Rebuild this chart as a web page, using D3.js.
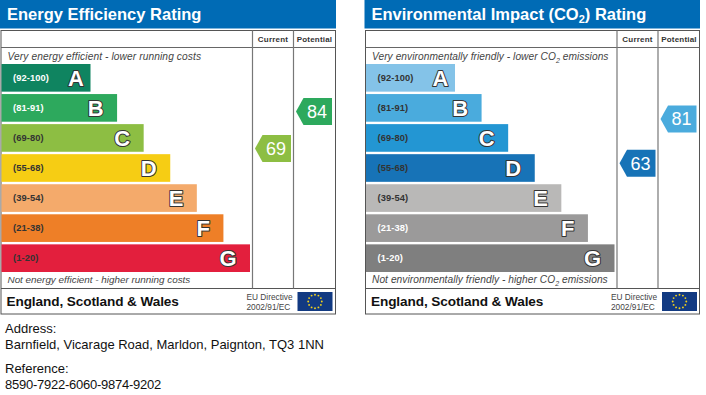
<!DOCTYPE html>
<html>
<head>
<meta charset="utf-8">
<script src="https://cdnjs.cloudflare.com/ajax/libs/d3/7.8.5/d3.min.js"></script>
<style>
  html, body { margin: 0; padding: 0; background: #fff; }
  svg { display: block; font-family: "Liberation Sans", Arial, sans-serif; }
</style>
</head>
<body>
<svg id="chart" width="706" height="395"></svg>
<script>
"use strict"

// bands, best to worst
let bandLetters = ["A", "B", "C", "D", "E", "F", "G"];
let bandRanges = ["(92-100)", "(81-91)", "(69-80)", "(55-68)", "(39-54)", "(21-38)", "(1-20)"];
let bandFloors = [92, 81, 69, 55, 39, 21, 1];
let bandRanks = [1, 2, 3, 4, 5, 6, 7];

let energyColors = ["#0f8460", "#2da95d", "#8dbe43", "#f6cd14", "#f4aa6b", "#ee7f27", "#e31f3d"];
let energyLabelColors = ["#fff", "#fff", "#333", "#333", "#333", "#333", "#333"];
let energyScores = [69, 84];

let envColors = ["#84c3e8", "#4aabdd", "#2396d3", "#1773b7", "#b9b8b7", "#9b9a9a", "#7f7f7f"];
let envLabelColors = ["#333", "#333", "#333", "#333", "#333", "#fff", "#fff"];
let envScores = [63, 81];

let columnNames = ["Current", "Potential"];

let svg = d3.select("#chart");

let yBand = d3.scaleBand().domain(bandLetters).range([64, 272]).paddingInner(0.08).paddingOuter(0);
let xRank = d3.scaleLinear().domain([1, 7]).range([90.5, 250]);
let yScore = d3.scaleLinear().domain([84, 69]).range([111.5, 148.5]);

function subscriptText(sel, parts, size) {
  // parts: [text, isSub, comesAfterSub]
  parts.forEach(function(p) {
    let span = sel.append("tspan").text(p[0]);
    if (p[1]) span.attr("font-size", size).attr("dy", 3);
    else if (p[2]) span.attr("dy", -3);
  });
}

function drawFlag(g, x, y) {
  g.append("rect").attr("x", x).attr("y", y).attr("width", 35).attr("height", 19).attr("fill", "#123a82");
  d3.range(12).forEach(function(i) {
    let a = i / 12 * 2 * Math.PI;
    g.append("circle")
      .attr("cx", x + 17.5 + 6.8 * Math.sin(a))
      .attr("cy", y + 9.5 - 6.8 * Math.cos(a))
      .attr("r", 0.95)
      .attr("fill", "#f2d21c");
  });
}

function drawPanel(dx, width, titleParts, topParts, bottomParts, colors, labelColors, scores, topStyle, bottomStyle) {
  let g = svg.append("g").attr("transform", "translate(" + dx + ",0)");
  let colA = 252.5, colB = 293.5, right = width;

  g.append("rect").attr("x", 0).attr("y", 0).attr("width", right + 0.5).attr("height", 28.5).attr("fill", "#006bb5");
  let title = g.append("text").attr("x", 7).attr("y", 20)
    .attr("font-size", 16.5).attr("font-weight", "bold").attr("fill", "#fff");
  subscriptText(title, titleParts, 11);

  // frame
  g.append("rect").attr("x", 1).attr("y", 30.5).attr("width", right - 1).attr("height", 283.5)
    .attr("fill", "#fff").attr("stroke", "#555").attr("stroke-width", 1);
  g.append("line").attr("x1", 1).attr("x2", right).attr("y1", 47.5).attr("y2", 47.5).attr("stroke", "#666");
  g.append("line").attr("x1", 1).attr("x2", right).attr("y1", 288.5).attr("y2", 288.5).attr("stroke", "#555");
  [colA, colB].forEach(function(x) {
    g.append("line").attr("x1", x).attr("x2", x).attr("y1", 30.5).attr("y2", 288.5)
      .attr("stroke", "#777").attr("stroke-width", 1.2);
  });

  columnNames.forEach(function(name, i) {
    g.append("text").attr("x", i == 0 ? 273 : 314.5).attr("y", 42).attr("text-anchor", "middle")
      .attr("font-size", 8).attr("font-weight", "bold").attr("fill", "#333").attr("letter-spacing", 0.2).text(name);
  });

  let top = g.append("text").attr("x", 7.5).attr("y", 60).attr("font-size", topStyle[0])
    .attr("font-style", "italic").attr("fill", "#444").attr("letter-spacing", topStyle[1]);
  subscriptText(top, topParts, 7);

  let bottom = g.append("text").attr("x", 7.5).attr("y", 283).attr("font-size", bottomStyle[0])
    .attr("font-style", "italic").attr("fill", "#444").attr("letter-spacing", bottomStyle[1]);
  subscriptText(bottom, bottomParts, 7);

  // bars
  let rows = g.selectAll(".band").data(bandLetters).enter().append("g").attr("class", "band");
  rows.append("rect")
    .attr("x", 1.5)
    .attr("y", d => yBand(d))
    .attr("width", (d, i) => xRank(bandRanks[i]) - 1.5)
    .attr("height", yBand.bandwidth())
    .attr("fill", (d, i) => colors[i]);
  rows.append("text")
    .attr("x", 13)
    .attr("y", d => yBand(d) + yBand.bandwidth() / 2 + 2.7)
    .attr("font-size", 9.3).attr("font-weight", "bold").attr("letter-spacing", 0.1)
    .attr("fill", (d, i) => labelColors[i])
    .text((d, i) => bandRanges[i]);
  rows.append("text")
    .attr("x", (d, i) => xRank(bandRanks[i]) - (d == "A" ? 6.5 : 13.5))
    .attr("y", d => yBand(d) + yBand.bandwidth() / 2 + 8)
    .attr("text-anchor", "end")
    .attr("font-size", 22).attr("font-weight", "bold")
    .attr("fill", "#fff").attr("stroke", "#333").attr("stroke-width", 2)
    .attr("stroke-linejoin", "round")
    .attr("paint-order", "stroke")
    .text(d => d);

  // score arrows
  scores.forEach(function(score, i) {
    let rightX = i == 0 ? 291 : 332;
    let fill = colors[bandFloors.findIndex(f => score >= f)];
    let cy = yScore(score);
    let path = d3.path();
    path.moveTo(rightX - 36, cy);
    path.lineTo(rightX - 28.5, cy - 13.5);
    path.lineTo(rightX, cy - 13.5);
    path.lineTo(rightX, cy + 13.5);
    path.lineTo(rightX - 28.5, cy + 13.5);
    path.closePath();
    g.append("path").attr("d", path.toString()).attr("fill", fill);
    g.append("text").attr("x", rightX - 15).attr("y", cy + 6.5).attr("text-anchor", "middle")
      .attr("font-size", 18).attr("fill", "#fff").text(score);
  });

  // footer
  g.append("text").attr("x", 6.5).attr("y", 306).attr("font-size", 13.6).attr("font-weight", "bold")
    .attr("fill", "#111").attr("letter-spacing", -0.1).text("England, Scotland & Wales");
  g.append("text").attr("x", 246.5).attr("y", 300).attr("font-size", 8.3).attr("fill", "#444").text("EU Directive");
  g.append("text").attr("x", 246.5).attr("y", 309.5).attr("font-size", 8.3).attr("fill", "#444").text("2002/91/EC");
  drawFlag(g, 297.5, 292);
}

drawPanel(0, 335.5,
  [["Energy Efficiency Rating"]],
  [["Very energy efficient - lower running costs"]],
  [["Not energy efficient - higher running costs"]],
  energyColors, energyLabelColors, energyScores, [10.2, 0.1], [9.9, 0]);

drawPanel(364.5, 335,
  [["Environmental Impact (CO"], ["2", true], [") Rating", false, true]],
  [["Very environmentally friendly - lower CO"], ["2", true], [" emissions", false, true]],
  [["Not environmentally friendly - higher CO"], ["2", true], [" emissions", false, true]],
  envColors, envLabelColors, envScores, [10.2, 0.05], [10.2, 0.05]);

let infoLines = [
  ["Address:", 333, 0],
  ["Barnfield, Vicarage Road, Marldon, Paignton, TQ3 1NN", 349, 0],
  ["Reference:", 373, 0],
  ["8590-7922-6060-9874-9202", 389, -0.25]
];
infoLines.forEach(function(l) {
  svg.append("text").attr("x", 5).attr("y", l[1]).attr("font-size", 13).attr("fill", "#111")
    .attr("letter-spacing", l[2]).text(l[0]);
});
</script>
</body>
</html>
